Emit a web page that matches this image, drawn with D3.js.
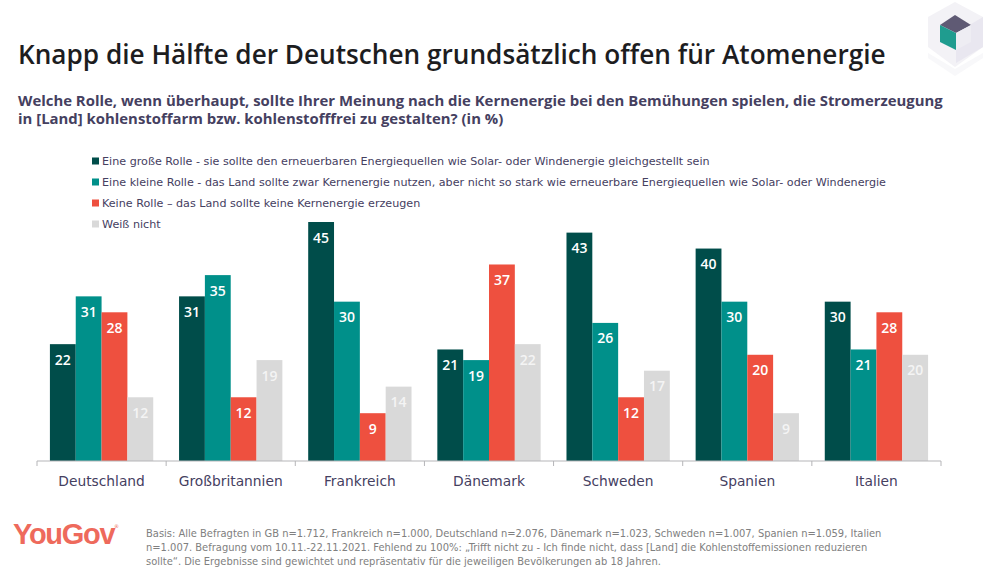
<!DOCTYPE html>
<html>
<head>
<meta charset="utf-8">
<script src="https://cdn.jsdelivr.net/npm/d3@7"></script>
<style>
  html, body { margin: 0; padding: 0; background: #fff; }
  svg { display: block; font-family: "DejaVu Sans", sans-serif; }
</style>
</head>
<body>
<div id="chart"></div>
<script>
// ---------- data ----------
const countries = ["Deutschland", "Großbritannien", "Frankreich", "Dänemark", "Schweden", "Spanien", "Italien"];
const seriesNames = [
  "Eine große Rolle - sie sollte den erneuerbaren Energiequellen wie Solar- oder Windenergie gleichgestellt sein",
  "Eine kleine Rolle - das Land sollte zwar Kernenergie nutzen, aber nicht so stark wie erneuerbare Energiequellen wie Solar- oder Windenergie",
  "Keine Rolle – das Land sollte keine Kernenergie erzeugen",
  "Weiß nicht"
];
const gross = [22, 31, 45, 21, 43, 40, 30];
const klein = [31, 35, 30, 19, 26, 30, 21];
const keine = [28, 12, 9, 37, 12, 20, 28];
const weissNicht = [12, 19, 14, 22, 17, 9, 20];
const allSeries = [gross, klein, keine, weissNicht];

const colors = ["#004d4a", "#00908a", "#ee503f", "#d9d9d9"];
const titleText = "Knapp die Hälfte der Deutschen grundsätzlich offen für Atomenergie";
const questionLines = [
  "Welche Rolle, wenn überhaupt, sollte Ihrer Meinung nach die Kernenergie bei den Bemühungen spielen, die Stromerzeugung",
  "in [Land] kohlenstoffarm bzw. kohlenstofffrei zu gestalten? (in %)"
];
const noteLines = [
  "Basis: Alle Befragten in GB n=1.712, Frankreich n=1.000, Deutschland n=2.076, Dänemark n=1.023, Schweden n=1.007, Spanien n=1.059, Italien",
  "n=1.007. Befragung vom 10.11.-22.11.2021. Fehlend zu 100%: „Trifft nicht zu - Ich finde nicht, dass [Land] die Kohlenstoffemissionen reduzieren",
  "sollte“. Die Ergebnisse sind gewichtet und repräsentativ für die jeweiligen Bevölkerungen ab 18 Jahren."
];

// ---------- layout ----------
const width = 1000, height = 578;
const axisLeft = 37, axisRight = 941, baseline = 461, plotTop = 222;
const textDark = "#45405f";
const headFont = "'Open Sans', sans-serif";

const svg = d3.select("#chart").append("svg")
  .attr("width", width)
  .attr("height", height);

// ---------- scales ----------
const x0 = d3.scaleBand().domain(countries).range([axisLeft, axisRight]).paddingInner(0.2).paddingOuter(0.1);
const x1 = d3.scaleBand().domain(d3.range(allSeries.length)).range([0, x0.bandwidth()]);
const y = d3.scaleLinear().domain([0, 45]).range([baseline, plotTop]);

// ---------- header ----------
svg.append("text")
  .attr("x", 18).attr("y", 64)
  .attr("font-family", headFont)
  .attr("font-size", 26.2).attr("font-weight", 600).attr("fill", "#1d1d1f")
  .text(titleText);

svg.selectAll("text.question").data(questionLines).join("text")
  .attr("class", "question")
  .attr("x", 18).attr("y", (d, i) => 106 + i * 18)
  .attr("font-family", headFont)
  .attr("font-size", 14.9).attr("font-weight", 700).attr("fill", textDark)
  .text(d => d);

// ---------- legend ----------
const legend = svg.selectAll("g.legend").data(seriesNames).join("g")
  .attr("class", "legend")
  .attr("transform", (d, i) => `translate(92,${161 + i * 21})`);

legend.append("rect")
  .attr("x", 0).attr("y", -3.5).attr("width", 7).attr("height", 7)
  .attr("fill", (d, i) => colors[i]);

legend.append("text")
  .attr("x", 10).attr("y", 4)
  .attr("font-size", 11.17).attr("fill", textDark)
  .text(d => d);

// ---------- bars ----------
const groups = svg.selectAll("g.country").data(countries).join("g")
  .attr("class", "country")
  .attr("transform", d => `translate(${x0(d)},0)`);

allSeries.forEach((values, s) => {
  groups.append("rect")
    .attr("x", x1(s))
    .attr("y", (d, i) => y(values[i]))
    .attr("width", x1.bandwidth())
    .attr("height", (d, i) => baseline - y(values[i]))
    .attr("fill", colors[s]);

  groups.append("text")
    .attr("x", x1(s) + x1.bandwidth() / 2)
    .attr("y", (d, i) => y(values[i]) + 20.5)
    .attr("text-anchor", "middle")
    .attr("font-family", headFont)
    .attr("font-size", 14).attr("font-weight", 600)
    .attr("fill", s === 3 ? "#f4f4f4" : "#fff")
    .text((d, i) => values[i]);
});

// ---------- x axis ----------
const axisGroup = svg.append("g").attr("transform", `translate(0,${baseline})`);
axisGroup.append("line")
  .attr("x1", axisLeft).attr("x2", axisRight)
  .attr("stroke", "#b5b5b8");

// tick marks sit on the band edges
const step = x0.step();
axisGroup.selectAll("line.tick").data(d3.range(countries.length + 1)).join("line")
  .attr("class", "tick")
  .attr("x1", i => axisLeft + i * step).attr("x2", i => axisLeft + i * step)
  .attr("y1", 0).attr("y2", 5)
  .attr("stroke", "#b5b5b8");

axisGroup.selectAll("text").data(countries).join("text")
  .attr("x", d => x0(d) + x0.bandwidth() / 2)
  .attr("y", 25)
  .attr("text-anchor", "middle")
  .attr("font-size", 13.8).attr("fill", textDark)
  .text(d => d);

// ---------- footer ----------
svg.append("text")
  .attr("x", 13).attr("y", 544)
  .attr("font-family", "Liberation Sans")
  .attr("font-size", 29).attr("font-weight", 700).attr("letter-spacing", -1.3)
  .attr("fill", "#ee6a5c")
  .text("YouGov");
svg.append("text")
  .attr("x", 114).attr("y", 528)
  .attr("font-size", 5).attr("fill", "#ee6a5c")
  .text("®");

svg.selectAll("text.note").data(noteLines).join("text")
  .attr("class", "note")
  .attr("x", 146).attr("y", (d, i) => 537 + i * 14)
  .attr("font-size", 9.93).attr("fill", "#808080")
  .text(d => d);

// ---------- cube logo, top right ----------
const cube = svg.append("g");
const facets = [
  { pts: "955,69 983,53 983,58 955,76 928,58 928,53", fill: "#f8f8fa" },
  { pts: "955,2 983,17 983,47 955,67 928,47 928,17", fill: "#f3f2f6" },
  { pts: "983,17 983,47 956,63 956,33", fill: "#e9e7f0" },
  { pts: "940,25 955,15 971,25 956,33", fill: "#5f5a74" },
  { pts: "940,25 956,33 956,50 940,42", fill: "#1f9c8f" },
  { pts: "956,33 971,25 971,42 956,50", fill: "#eeedf3" }
];
cube.selectAll("polygon").data(facets).join("polygon")
  .attr("points", d => d.pts)
  .attr("fill", d => d.fill);
</script>
</body>
</html>
